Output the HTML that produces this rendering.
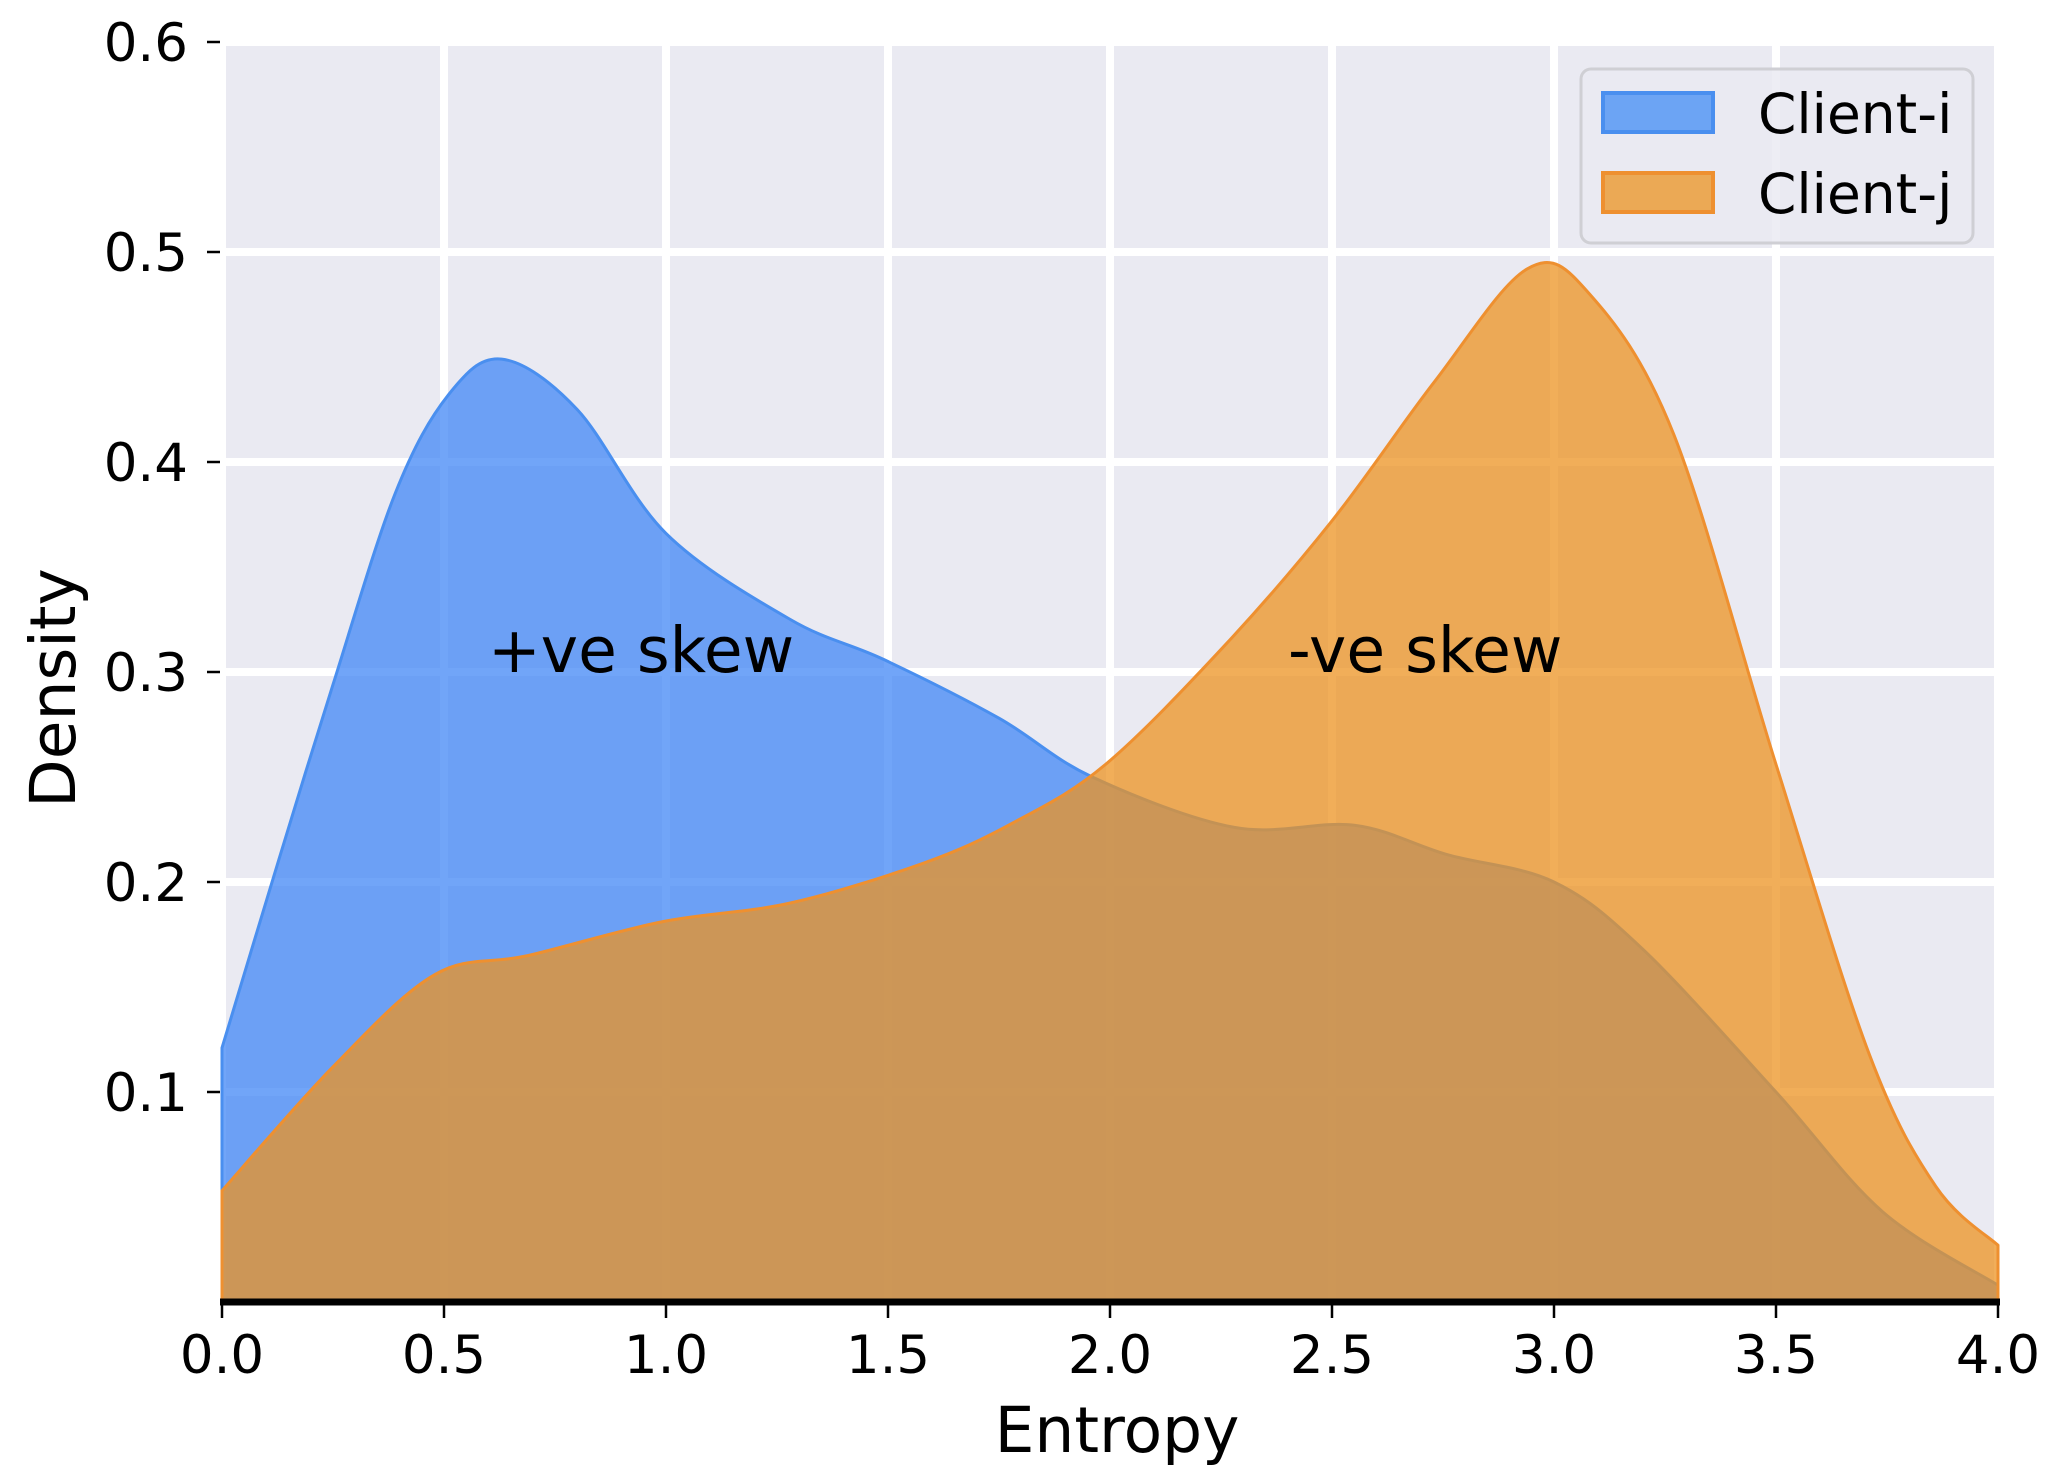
<!DOCTYPE html>
<html><head><meta charset="utf-8"><style>
html,body{margin:0;padding:0;background:#fff;}
svg{display:block;font-family:"DejaVu Sans","Liberation Sans",sans-serif;}
</style></head><body>
<svg id="s" width="2062" height="1480" viewBox="0 0 2062 1480">
<rect x="222" y="42" width="1776" height="1260" fill="#eaeaf2"/>
<g id="grid" stroke="#fff" stroke-width="8"></g>
<path id="blue" fill="rgb(66,135,245)" fill-opacity="0.75" stroke="#4a8fef" stroke-width="3"/>
<path id="orange" fill="rgb(236,147,33)" fill-opacity="0.75" stroke="#ee9030" stroke-width="3"/>
<line x1="220" y1="1302" x2="2000" y2="1302" stroke="#000" stroke-width="7"/>
<g id="ticks" stroke="#000" stroke-width="2.5"></g>
<g id="lbl" font-size="53" fill="#000"></g>
<text x="488" y="672" font-size="63">+ve skew</text>
<text x="1288" y="672" font-size="63">-ve skew</text>
<text x="1117" y="1452" font-size="63" text-anchor="middle">Entropy</text>
<text transform="translate(75,688) rotate(-90)" font-size="63" text-anchor="middle">Density</text>
<rect x="1581" y="69" width="392" height="174" rx="10" fill="#eaeaf2" fill-opacity="0.85" stroke="#cfcfd4" stroke-width="3"/>
<rect x="1603" y="93" width="110" height="39" fill="rgb(108,164,244)" stroke="#4a8fef" stroke-width="4"/>
<rect x="1603" y="173" width="110" height="39" fill="rgb(235,169,85)" stroke="#ee9030" stroke-width="4"/>
<text x="1758" y="133" font-size="55">Client-i</text>
<text x="1758" y="213" font-size="55">Client-j</text>
</svg>
<script>
var X=v=>222+v*444, Y=d=>1302-d*2100;
var g=document.getElementById('grid'),t=document.getElementById('ticks'),l=document.getElementById('lbl');
var ns='http://www.w3.org/2000/svg';
function el(p,tag,a,txt){var e=document.createElementNS(ns,tag);for(var k in a)e.setAttribute(k,a[k]);if(txt)e.textContent=txt;p.appendChild(e);}
for(var i=0;i<=8;i++){var x=X(i*0.5);el(g,'line',{x1:x,y1:42,x2:x,y2:1302});el(t,'line',{x1:x,y1:1302,x2:x,y2:1318});el(l,'text',{x:x,y:1373,'text-anchor':'middle'},(i*0.5).toFixed(1));}
for(var j=1;j<=6;j++){var y=Y(j/10);el(g,'line',{x1:222,y1:y,x2:1998,y2:y});el(t,'line',{x1:207,y1:y,x2:220,y2:y});el(l,'text',{x:188,y:y+19,'text-anchor':'end'},(j/10).toFixed(1));}
function path(pts){var P=pts.map(p=>[X(p[0]),Y(p[1])]);var d='M'+X(0)+','+Y(0)+'L'+P[0][0]+','+P[0][1];
for(var i=0;i<P.length-1;i++){var p0=P[i-1]||P[i],p1=P[i],p2=P[i+1],p3=P[i+2]||P[i+1];
d+='C'+(p1[0]+(p2[0]-p0[0])/6)+','+(p1[1]+(p2[1]-p0[1])/6)+' '+(p2[0]-(p3[0]-p1[0])/6)+','+(p2[1]-(p3[1]-p1[1])/6)+' '+p2[0]+','+p2[1];}
return d+'L'+X(4)+','+Y(0)+'Z';}
document.getElementById('blue').setAttribute('d',path([[0,0.121],[0.13,0.212],[0.25,0.294],[0.39,0.385],[0.51,0.432],[0.63,0.449],[0.8,0.425],[1.0,0.366],[1.28,0.325],[1.49,0.306],[1.75,0.278],[1.96,0.25],[2.28,0.226],[2.55,0.227],[2.76,0.213],[3.0,0.2],[3.2,0.168],[3.5,0.1],[3.74,0.043],[4.0,0.008]]));
document.getElementById('orange').setAttribute('d',path([[0,0.053],[0.25,0.112],[0.48,0.156],[0.69,0.165],[0.99,0.181],[1.28,0.19],[1.58,0.209],[1.78,0.228],[1.99,0.256],[2.26,0.313],[2.5,0.372],[2.73,0.438],[2.94,0.492],[3.08,0.48],[3.27,0.413],[3.5,0.256],[3.71,0.118],[3.86,0.055],[4.0,0.027]]));
</script>
</body></html>
